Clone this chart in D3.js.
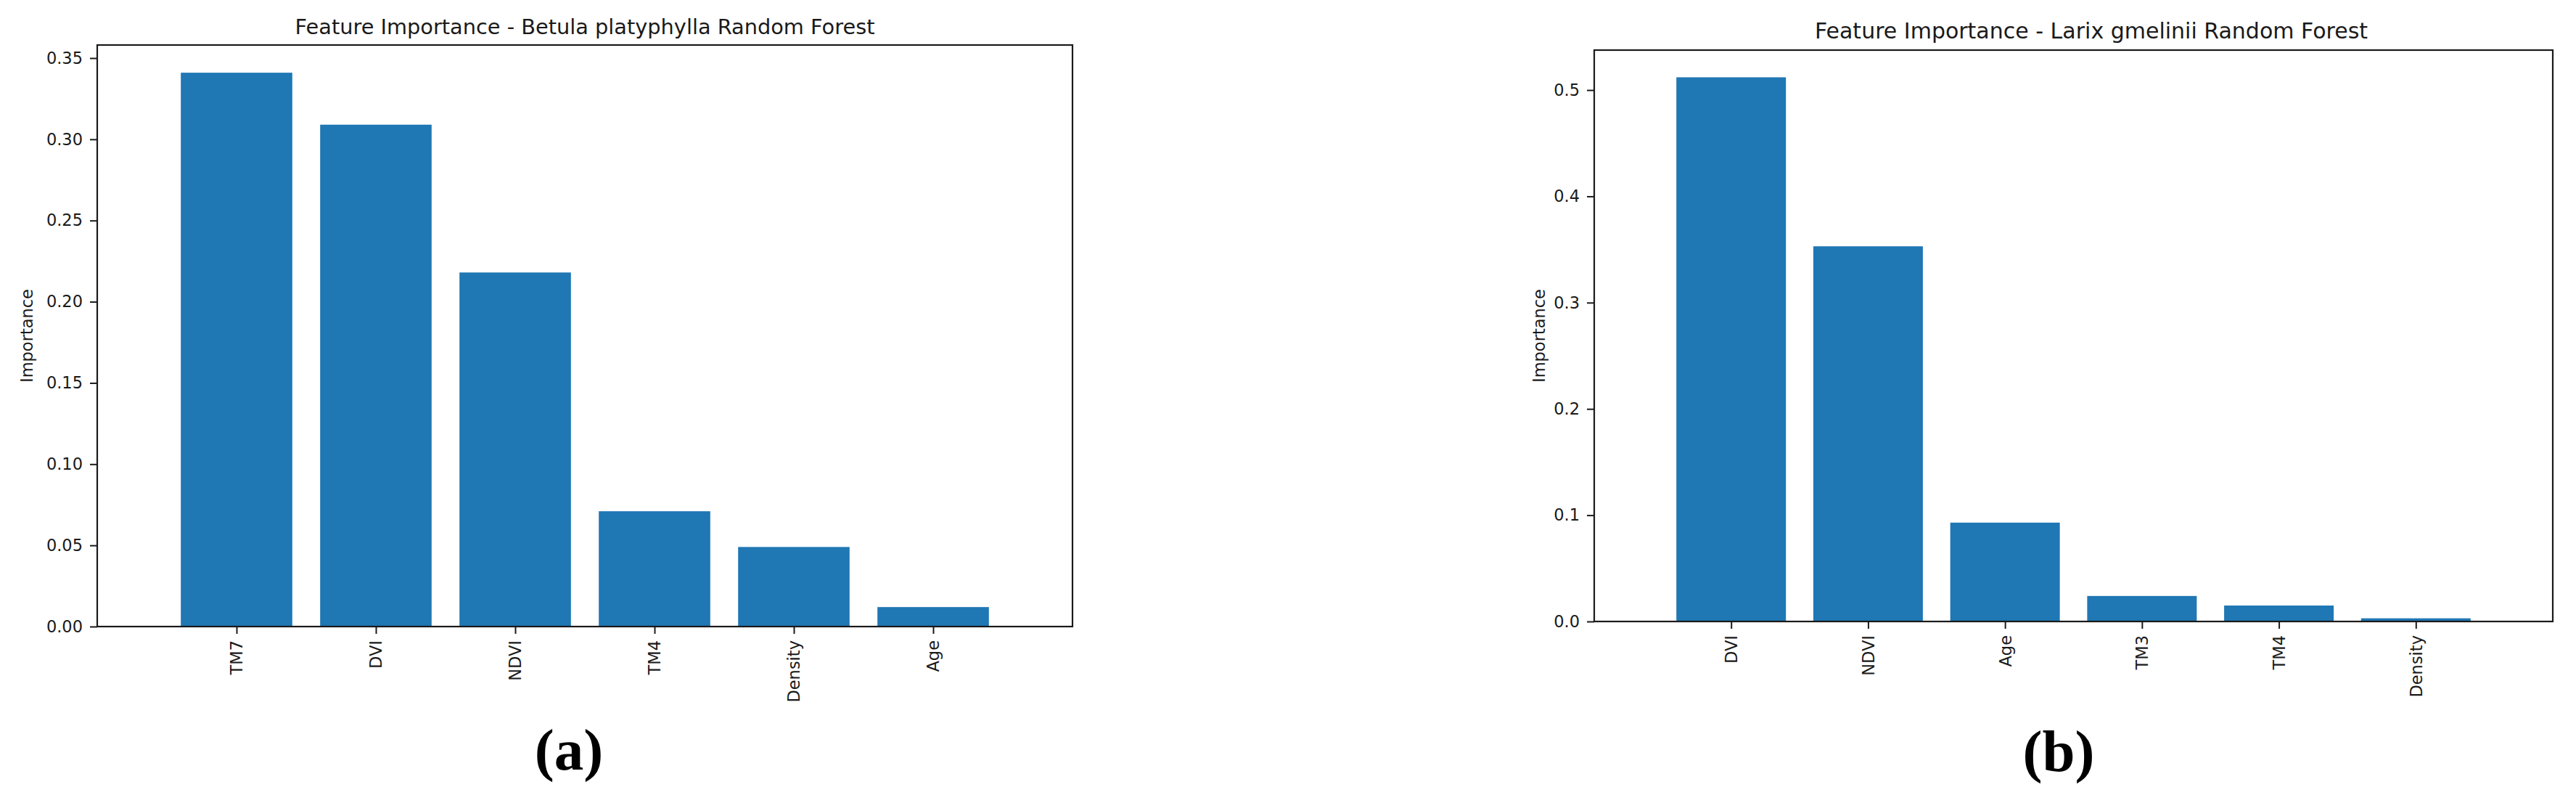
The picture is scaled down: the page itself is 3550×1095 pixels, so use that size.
<!DOCTYPE html>
<html lang='en'>
<head>
<meta charset="utf-8">
<style>
body {
  margin: 0;
  background: #fff;
}
text {
  font-family: "DejaVu Sans", sans-serif;
  fill: #1a1a1a;
}
.axis path {
  display: none;
}
.axis line {
  stroke: #1a1a1a;
  stroke-width: 2px;
}
.axis text {
  font-size: 22.5px;
}
.frame {
  fill: none;
  stroke: #1a1a1a;
  stroke-width: 2.2px;
}
.bar {
  fill: #1f77b4;
}
.ylabel {
  font-size: 22.5px;
}
.panel {
  font-family: "Liberation Serif", "Times New Roman", serif;
  font-weight: bold;
  font-size: 81px;
  fill: #000;
}
</style>
</head>
<body>

<svg width="3550" height="1095"></svg>

<script src="https://cdn.jsdelivr.net/npm/d3@7"></script>
<script>
  // panel (a)
  var betulaFeatures = ["TM7", "DVI", "NDVI", "TM4", "Density", "Age"],
      betulaImportance = [0.341, 0.309, 0.218, 0.071, 0.049, 0.012],
      betulaTicks = [0, 0.05, 0.10, 0.15, 0.20, 0.25, 0.30, 0.35],
      betulaTitle = "Feature Importance - Betula platyphylla Random Forest";

  // panel (b)
  var larixFeatures = ["DVI", "NDVI", "Age", "TM3", "TM4", "Density"],
      larixImportance = [0.512, 0.353, 0.093, 0.024, 0.015, 0.003],
      larixTicks = [0, 0.1, 0.2, 0.3, 0.4, 0.5],
      larixTitle = "Feature Importance - Larix gmelinii Random Forest";

  var panelLabels = ["(a)", "(b)"];

  var svg = d3.select("svg");

  drawChart({
    names: betulaFeatures, values: betulaImportance, ticks: betulaTicks,
    title: betulaTitle, label: panelLabels[0], fmt: ".2f",
    left: 134, right: 1478, top: 62, bottom: 863,
    ylabelX: 45, titleX: 806, titleY: 47, titleSize: 28.8, labelX: 784, labelY: 1060
  });

  drawChart({
    names: larixFeatures, values: larixImportance, ticks: larixTicks,
    title: larixTitle, label: panelLabels[1], fmt: ".1f",
    left: 2197, right: 3518, top: 69, bottom: 856,
    ylabelX: 2129, titleX: 2882, titleY: 53, titleSize: 30, labelX: 2837, labelY: 1062
  });

  function drawChart(c) {
    var n = c.names.length,
        ymax = d3.max(c.values) * 1.05;

    var x = d3.scaleLinear().domain([-1, n]).range([c.left, c.right]),
        y = d3.scaleLinear().domain([0, ymax]).range([c.bottom, c.top]);

    var g = svg.append("g");

    g.selectAll(".bar")
      .data(c.values)
      .enter().append("rect")
        .attr("class", "bar")
        .attr("x", function(d, i) { return x(i - 0.4); })
        .attr("width", function(d, i) { return x(i + 0.4) - x(i - 0.4); })
        .attr("y", function(d) { return y(d); })
        .attr("height", function(d) { return y(0) - y(d); });

    var xAxis = d3.axisBottom(x)
        .tickValues(d3.range(n))
        .tickFormat(function(i) { return c.names[i]; })
        .tickSize(10)
        .tickPadding(9);

    var yAxis = d3.axisLeft(y)
        .tickValues(c.ticks)
        .tickFormat(d3.format(c.fmt))
        .tickSize(10)
        .tickPadding(10);

    g.append("g")
        .attr("class", "axis axis--x")
        .attr("transform", "translate(0," + c.bottom + ")")
        .call(xAxis)
      .selectAll("text")
        .attr("transform", "rotate(-90)")
        .attr("x", -19)
        .attr("y", 0)
        .attr("dy", "0.35em")
        .style("text-anchor", "end");

    g.append("g")
        .attr("class", "axis axis--y")
        .attr("transform", "translate(" + c.left + ",0)")
        .call(yAxis);

    g.append("rect")
        .attr("class", "frame")
        .attr("x", c.left)
        .attr("y", c.top)
        .attr("width", c.right - c.left)
        .attr("height", c.bottom - c.top);

    g.append("text")
        .attr("x", c.titleX)
        .attr("y", c.titleY)
        .attr("text-anchor", "middle")
        .style("font-size", c.titleSize + "px")
        .text(c.title);

    g.append("text")
        .attr("class", "ylabel")
        .attr("transform", "translate(" + c.ylabelX + "," + (c.top + c.bottom) / 2 + ") rotate(-90)")
        .attr("text-anchor", "middle")
        .text("Importance");

    g.append("text")
        .attr("class", "panel")
        .attr("x", c.labelX)
        .attr("y", c.labelY)
        .attr("text-anchor", "middle")
        .text(c.label);
  }
</script>
</body>
</html>
